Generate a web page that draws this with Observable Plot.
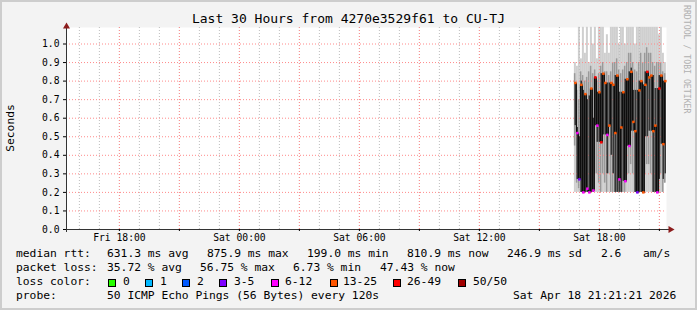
<!DOCTYPE html>
<html><head><meta charset="utf-8">
<script src="https://cdn.jsdelivr.net/npm/d3@7"></script>
<script src="https://cdn.jsdelivr.net/npm/@observablehq/plot@0.6"></script>
<style>
body{margin:0;background:#fff;}
#c{position:absolute;left:0;top:0;width:697px;height:310px;background:#f3f3f3;box-shadow:inset 0 0 0 2px #cdcdcd;overflow:hidden;font-family:"DejaVu Sans Mono",monospace;color:#000;}
#c svg{position:absolute;left:0;top:0;}
.t{position:absolute;white-space:pre;font-size:11.3px;line-height:14px;}
.box{position:absolute;width:6px;height:6px;border:1px solid #000;}
</style></head>
<body><div id="c"></div>
<script>
// ---- data ----
const xStart = "2026-04-17T15:21:21";
const xEnd = "2026-04-18T21:21:21";
const times = ["2026-04-18T16:45","2026-04-18T16:51","2026-04-18T16:57","2026-04-18T17:03","2026-04-18T17:09","2026-04-18T17:15","2026-04-18T17:21","2026-04-18T17:27","2026-04-18T17:33","2026-04-18T17:39","2026-04-18T17:45","2026-04-18T17:51","2026-04-18T17:57","2026-04-18T18:03","2026-04-18T18:09","2026-04-18T18:15","2026-04-18T18:21","2026-04-18T18:27","2026-04-18T18:33","2026-04-18T18:39","2026-04-18T18:45","2026-04-18T18:51","2026-04-18T18:57","2026-04-18T19:03","2026-04-18T19:09","2026-04-18T19:15","2026-04-18T19:21","2026-04-18T19:27","2026-04-18T19:33","2026-04-18T19:39","2026-04-18T19:45","2026-04-18T19:51","2026-04-18T19:57","2026-04-18T20:03","2026-04-18T20:09","2026-04-18T20:15","2026-04-18T20:21","2026-04-18T20:27","2026-04-18T20:33","2026-04-18T20:39","2026-04-18T20:45","2026-04-18T20:51","2026-04-18T20:57","2026-04-18T21:03","2026-04-18T21:09","2026-04-18T21:15"];
const median = [0.79,0.52,0.27,0.78,0.20,0.73,0.22,0.20,0.76,0.21,0.82,0.56,0.74,0.47,0.84,0.79,0.51,0.56,0.79,0.78,0.52,0.83,0.27,0.55,0.74,0.26,0.81,0.45,0.85,0.58,0.53,0.20,0.75,0.80,0.20,0.78,0.85,0.82,0.83,0.53,0.56,0.20,0.76,0.83,0.46,0.80];
const lossCount = [17,8,4,16,9,15,10,7,17,9,27,10,16,28,18,17,8,15,17,19,14,18,11,14,17,9,18,10,20,16,15,5,17,18,14,19,27,20,18,15,14,9,28,19,15,17];
const darkLo = [0.56,0.27,0.27,0.20,0.20,0.20,0.20,0.20,0.20,0.20,0.56,0.47,0.47,0.47,0.51,0.51,0.30,0.56,0.40,0.30,0.20,0.20,0.20,0.20,0.26,0.26,0.45,0.45,0.53,0.53,0.20,0.20,0.20,0.20,0.20,0.50,0.50,0.53,0.53,0.20,0.20,0.20,0.27,0.46,0.27,0.30];
const darkHi = [0.79,0.55,0.50,0.80,0.75,0.73,0.70,0.72,0.76,0.60,0.82,0.74,0.74,0.84,0.84,0.79,0.79,0.79,0.79,0.78,0.83,0.83,0.74,0.74,0.74,0.81,0.81,0.85,0.87,0.75,0.75,0.75,0.80,0.80,0.78,0.85,0.85,0.82,0.83,0.83,0.76,0.76,0.83,0.83,0.80,0.80];
const midLo = [0.45,0.25,0.22,0.20,0.20,0.20,0.20,0.20,0.20,0.20,0.30,0.30,0.25,0.20,0.30,0.25,0.20,0.30,0.20,0.20,0.20,0.20,0.20,0.20,0.20,0.20,0.30,0.30,0.35,0.30,0.20,0.20,0.20,0.20,0.20,0.30,0.35,0.35,0.30,0.20,0.20,0.20,0.20,0.30,0.20,0.25];
const midHi = [0.84,0.75,0.70,0.85,0.83,0.80,0.82,0.85,0.88,0.84,0.86,0.80,0.84,0.88,0.90,0.85,0.85,0.83,0.85,0.90,0.90,0.92,0.86,0.84,0.86,0.88,0.90,0.95,0.95,0.90,0.86,0.85,0.90,0.95,0.90,0.95,0.98,0.95,0.95,0.90,0.88,0.90,0.90,0.90,0.85,0.84];
const outLo = [0.20,0.20,0.20,0.20,0.20,0.20,0.20,0.20,0.20,0.20,0.20,0.20,0.20,0.20,0.20,0.20,0.20,0.20,0.20,0.20,0.20,0.20,0.20,0.20,0.20,0.20,0.20,0.20,0.20,0.20,0.20,0.20,0.20,0.20,0.20,0.20,0.20,0.20,0.20,0.20,0.20,0.20,0.20,0.20,0.20,0.25];
const outHi = [0.90,0.88,1.09,0.92,1.09,0.95,1.09,0.90,1.09,1.00,1.09,0.92,1.09,1.09,1.09,0.95,1.05,0.95,1.09,1.09,1.09,1.09,1.00,1.09,1.09,1.00,1.09,1.09,1.09,1.09,1.00,1.09,1.09,1.09,1.09,1.09,1.09,1.09,1.09,1.09,1.09,1.09,1.05,1.09,0.95,0.90];
const yTicks = [0,0.1,0.2,0.3,0.4,0.5,0.6,0.7,0.8,0.9,1.0];
const majorTimes = ["2026-04-17T18:00","2026-04-17T21:00","2026-04-18T00:00","2026-04-18T03:00","2026-04-18T06:00","2026-04-18T09:00","2026-04-18T12:00","2026-04-18T15:00","2026-04-18T18:00","2026-04-18T21:00"];
const labelTimes = ["2026-04-17T18:00","2026-04-18T00:00","2026-04-18T06:00","2026-04-18T12:00","2026-04-18T18:00"];
const xLabels = ["Fri 18:00","Sat 00:00","Sat 06:00","Sat 12:00","Sat 18:00"];
const lossLabels = ["0","1","2","3-5","6-12","13-25","26-49","50/50"];
const lossMax = [0,1,2,5,12,25,49,50];
const lossColors = ["#26ff00","#00b8ff","#0059ff","#7e00ff","#ff00ff","#ff5500","#ff0000","#a10000"];
const title = "Last 30 Hours from 4270e3529f61 to CU-TJ";
const yLabel = "Seconds";
const legendRows = [
  {y:246.8, items:[[16,"median rtt:"],[107,"631.3 ms avg"],[207,"875.9 ms max"],[307,"199.0 ms min"],[407,"810.9 ms now"],[507,"246.9 ms sd"],[601,"2.6"],[643,"am/s"]]},
  {y:261, items:[[16,"packet loss:"],[107,"35.72 % avg"],[200,"56.75 % max"],[293,"6.73 % min"],[380,"47.43 % now"]]},
  {y:275, items:[[16,"loss color:"]]},
  {y:289.1, items:[[16,"probe:"],[107,"50 ICMP Echo Pings (56 Bytes) every 120s"],[513,"Sat Apr 18 21:21:21 2026"]]}
];
const lossLegendX = [[108,123],[145,160],[182,197],[219,234],[271,285],[330,343],[393,407],[458,473]];

// ---- build ----
const x0 = new Date(xStart), x1 = new Date(xEnd);
const step = 6*60e3;
const rows = times.map((t,i)=>{const d=new Date(t);return {t0:d,t1:new Date(+d+step),tm:new Date(+d+step/2),med:median[i],loss:lossCount[i],dLo:darkLo[i],dHi:darkHi[i],mLo:midLo[i],mHi:midHi[i],oLo:outLo[i],oHi:outHi[i]};});
const lossColor = n => lossColors[lossMax.findIndex(m=>n<=m)];
const minorHours = d3.timeHour.range(x0, x1);
const majors = majorTimes.map(s=>new Date(s));
const labelMap = new Map(labelTimes.map((s,i)=>[+new Date(s), xLabels[i]]));
const yTop = 1.089;

const chart = Plot.plot({
  width:697, height:250,
  marginLeft:66, marginRight:31, marginTop:27, marginBottom:21,
  style:{background:"transparent", fontFamily:"DejaVu Sans Mono", fontSize:"9.7px", color:"#000", overflow:"visible"},
  x:{type:"time", domain:[x0,x1]},
  y:{domain:[0,yTop]},
  marks:[
    Plot.frame({fill:"white", stroke:null}),
    Plot.rectY(rows,{x1:"t0",x2:"t1",y1:"oLo",y2:"oHi",fill:"#cfcfcf"}),
    Plot.rectY(rows,{x1:"t0",x2:"t1",y1:"mLo",y2:"mHi",fill:"#999999",insetRight:0.5}),
    Plot.ruleX(minorHours,{stroke:"#bdbdbd",strokeDasharray:"1,2"}),
    Plot.ruleX(majors,{stroke:"#ff8a8a",strokeDasharray:"1,2"}),
    Plot.ruleY(yTicks.slice(1),{stroke:"#ff8a8a",strokeDasharray:"1,2"}),
    Plot.rectY(rows,{x1:"t0",x2:"t1",y1:"dLo",y2:"dHi",fill:"#262626",insetLeft:0.7}),
    Plot.line(rows,{x:"tm",y:"med",curve:"step",stroke:"#000",strokeWidth:1}),
    Plot.dot(rows,{x:"tm",y:"med",symbol:"square",r:1.4,fill:d=>lossColor(d.loss),stroke:null}),
    Plot.ruleY([0],{stroke:"#333",insetRight:-5}),
    Plot.ruleX([x0],{stroke:"#333",insetTop:-3,insetBottom:-3}),
    Plot.dot([x1],{x:d=>d,y:()=>0,symbol:"triangle",rotate:90,r:2.6,dx:4,fill:"#8c1c1c",stroke:null}),
    Plot.dot([x0],{x:d=>d,y:()=>yTop,symbol:"triangle",r:2.6,dy:-1,fill:"#8c1c1c",stroke:null}),
    Plot.axisY({ticks:yTicks,tickSize:3,tickPadding:4,tickFormat:d3.format(".1f"),label:null}),
    Plot.axisX({ticks:majors,tickSize:2,tickPadding:3,tickFormat:d=>labelMap.get(+d)||"",label:null})
  ]
});
const c = document.getElementById("c");
c.appendChild(chart);

function addText(txt,left,top,cls,extra){const e=document.createElement("div");e.className=cls;e.textContent=txt;e.style.left=left+"px";e.style.top=top+"px";if(extra)Object.assign(e.style,extra);c.appendChild(e);return e;}
addText(title,0,11,"t",{width:"697px",textAlign:"center",fontSize:"13px",lineHeight:"16px"});
addText(yLabel,-14,121,"t",{width:"50px",textAlign:"center",transform:"rotate(-90deg)"});
addText("RRDTOOL / TOBI OETIKER",682,5,"t",{fontSize:"8.2px",lineHeight:"10px",color:"#b0b0b0",writingMode:"vertical-rl"});
legendRows.forEach(r=>r.items.forEach(([x,s])=>addText(s,x,r.y,"t")));
lossLabels.forEach((l,i)=>{
  const b=document.createElement("div");b.className="box";b.style.left=lossLegendX[i][0]+"px";b.style.top="279px";b.style.background=lossColors[i];c.appendChild(b);
  addText(l,lossLegendX[i][1],275,"t");
});
</script></body></html>
